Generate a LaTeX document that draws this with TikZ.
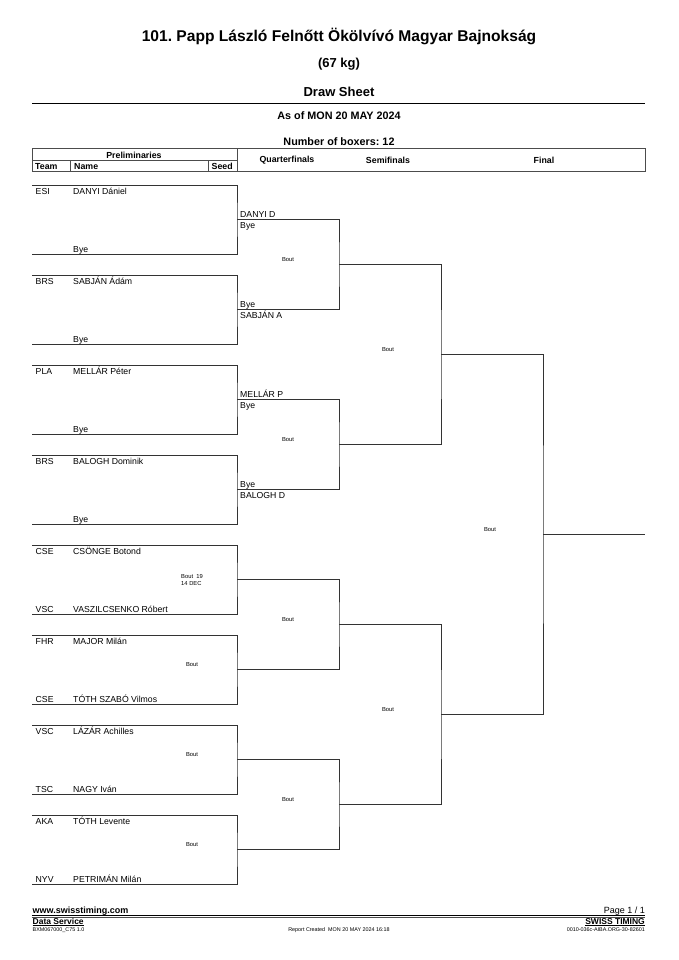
\documentclass[tikz,border=0pt]{standalone}
\usepackage{fontspec}
\setmainfont{Liberation Sans}
\usetikzlibrary{calc}
\frenchspacing

\begin{document}
\begin{tikzpicture}[x=1pt,y=-1pt,
    line/.style={line width=0.9pt,black!80},
    hline/.style={line width=1pt,black!70},
    entry/.style={anchor=base west,inner sep=0pt,font=\fontsize{8.7}{10}\selectfont},
    boutlbl/.style={inner sep=0pt,font=\fontsize{5.8}{7}\selectfont},
    head/.style={inner sep=0pt,font=\bfseries\fontsize{8.8}{10}\selectfont},
    tiny/.style={inner sep=0pt,font=\fontsize{5.4}{6}\selectfont}]
  \useasboundingbox (0,0) rectangle (678,960);

  % title block
  \node[inner sep=0pt,font=\bfseries\fontsize{15.6}{18}\selectfont] (title) at (339,36) {101. Papp László Felnőtt Ökölvívó Magyar Bajnokság};
  \node[inner sep=0pt,font=\bfseries\fontsize{13}{15}\selectfont] (weight) at (339,64) {(67 kg)};
  \node[inner sep=0pt,font=\bfseries\fontsize{13}{15}\selectfont] (sheet) at (339,92) {Draw Sheet};
  \draw[line width=0.8pt] (32,103) -- (645,103);
  \node[inner sep=0pt,font=\bfseries\fontsize{10.8}{12}\selectfont] (asof) at (339,116) {As of MON 20 MAY 2024};
  \node[inner sep=0pt,font=\bfseries\fontsize{10.8}{12}\selectfont] (nbox) at (339,142) {Number of boxers: 12};

  % table header
  \draw[hline] (32,149) rectangle (645,172);
  \draw[hline] (32,161) -- (237,161);
  \draw[hline] (237,149) -- (237,172);
  \draw[hline] (70.7,161) -- (70.7,172);
  \draw[hline] (208,161) -- (208,172);
  \node[head,anchor=base] (hprel) at (134,158.5) {Preliminaries};
  \node[head,anchor=base west] (hteam) at (35,170) {Team};
  \node[head,anchor=base west] (hname) at (74,170) {Name};
  \node[head,anchor=base west] (hseed) at (211.5,170) {Seed};
  \node[head] (hqf) at (287,160.5) {Quarterfinals};
  \node[head] (hsf) at (388,160.5) {Semifinals};
  \node[head] (hfin) at (544,160.5) {Final};

  % preliminaries
  \foreach \i/\ta/\na/\tb/\nb in {0/ESI/DANYI Dániel//Bye,1/BRS/SABJÁN Ádám//Bye,
      2/PLA/MELLÁR Péter//Bye,3/BRS/BALOGH Dominik//Bye,
      4/CSE/CSÖNGE Botond/VSC/VASZILCSENKO Róbert,5/FHR/MAJOR Milán/CSE/TÓTH SZABÓ Vilmos,
      6/VSC/LÁZÁR Achilles/TSC/NAGY Iván,7/AKA/TÓTH Levente/NYV/PETRIMÁN Milán}{
    \pgfmathsetmacro\yt{185+90*\i}
    \pgfmathsetmacro\yb{254+90*\i}
    \coordinate (t\i) at (32,\yt);
    \coordinate (b\i) at (32,\yb);
    \coordinate (p\i) at (237,{(\yt+\yb)/2});
    \draw[line] (t\i) -| (p\i) |- (b\i);
    \node[entry] (ta\i) at (35.5,\yt+9.3) {\ta};
    \node[entry] (na\i) at (73,\yt+9.3) {\na};
    \node[entry] (tb\i) at (35.5,\yb-2) {\tb};
    \node[entry] (nb\i) at (73,\yb-2) {\nb};
  }
  \node[boutlbl,anchor=west] (pb4a) at (181,576) {Bout\ \ 19};
  \node[boutlbl,anchor=west] (pb4b) at (181,583) {14 DEC};
  \foreach \i in {5,6,7}
    \node[boutlbl] (pb\i) at ($(p\i)+(-45,-4.5)$) {Bout};

  % quarterfinals
  \foreach \j in {0,...,3}{
    \pgfmathtruncatemacro\ja{2*\j}
    \pgfmathtruncatemacro\jb{2*\j+1}
    \coordinate (q\j) at (339,{264.5+180*\j});
    \draw[line] (p\ja) -| (q\j) |- (p\jb);
    \node[boutlbl] (qb\j) at ($(q\j)+(-51,-4.5)$) {Bout};
  }
  \node[entry] (qa0) at ($(p0)+(3,-2.5)$) {DANYI D};
  \node[entry] (qc0) at ($(p0)+(3,9)$) {Bye};
  \node[entry] (qa1) at ($(p1)+(3,-2.5)$) {Bye};
  \node[entry] (qc1) at ($(p1)+(3,9)$) {SABJÁN A};
  \node[entry] (qa2) at ($(p2)+(3,-2.5)$) {MELLÁR P};
  \node[entry] (qc2) at ($(p2)+(3,9)$) {Bye};
  \node[entry] (qa3) at ($(p3)+(3,-2.5)$) {Bye};
  \node[entry] (qc3) at ($(p3)+(3,9)$) {BALOGH D};

  % semifinals
  \foreach \k in {0,1}{
    \pgfmathtruncatemacro\ka{2*\k}
    \pgfmathtruncatemacro\kb{2*\k+1}
    \coordinate (s\k) at (441,{354.5+360*\k});
    \draw[line] (q\ka) -| (s\k) |- (q\kb);
    \node[boutlbl] (sb\k) at ($(s\k)+(-53,-4.5)$) {Bout};
  }

  % final
  \coordinate (f) at (543,534.5);
  \coordinate (fend) at (645,534.5);
  \draw[line] (s0) -| (f) |- (s1);
  \draw[line] (f) -- (fend);
  \node[boutlbl] (fb) at ($(f)+(-53,-4.5)$) {Bout};

  % footer
  \node[inner sep=0pt,anchor=base west,font=\bfseries\fontsize{9}{10}\selectfont] (www) at (32.5,913.8) {www.swisstiming.com};
  \node[inner sep=0pt,anchor=base east,font=\fontsize{9}{10}\selectfont] (page) at (645,913.8) {Page 1 / 1};
  \draw[line width=1pt] (32,915.6) -- (645,915.6);
  \draw[line width=0.4pt,black!70] (32,917.4) -- (645,917.4);
  \node[inner sep=0pt,anchor=base west,font=\bfseries\fontsize{8.5}{10}\selectfont] (ds) at (32.5,924) {Data Service};
  \node[inner sep=0pt,anchor=base east,font=\bfseries\fontsize{8.5}{10}\selectfont] (st) at (645,924) {SWISS TIMING};
  \draw[line width=0.6pt] ([yshift=-1.3pt]ds.base west) -- ([yshift=-1.3pt]ds.base east);
  \draw[line width=0.6pt] ([yshift=-1.3pt]st.base west) -- ([yshift=-1.3pt]st.base east);
  \node[tiny,anchor=base west] (code) at (32.5,931) {BXM067000\_C75 1.0};
  \node[tiny,anchor=base] (rep) at (339,931) {Report Created\ \ MON 20 MAY 2024 16:18};
  \node[tiny,anchor=base east] (ref) at (645,931) {0010-036c-AIBA.ORG-30-82601};
\end{tikzpicture}
\end{document}
